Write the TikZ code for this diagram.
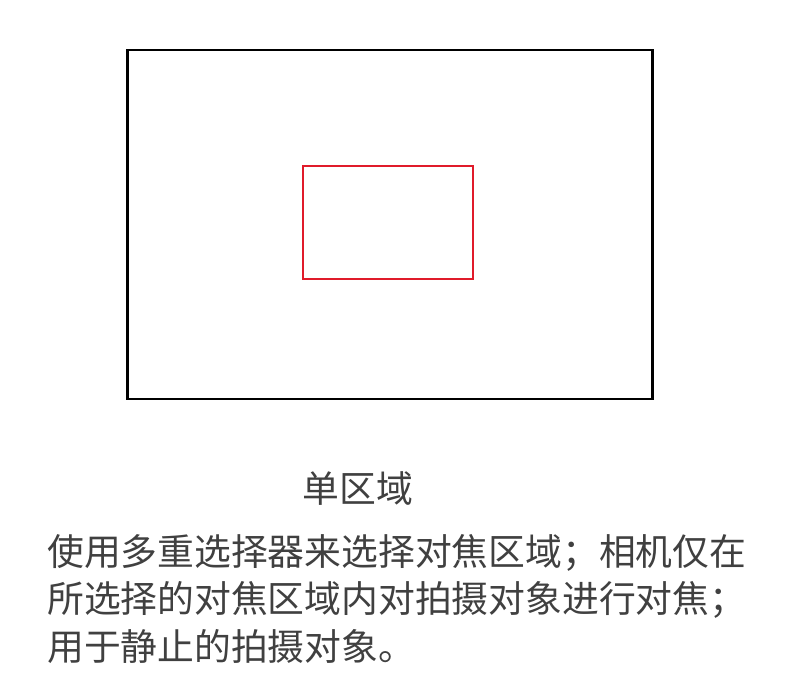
\documentclass[tikz,border=0pt]{standalone}
\usepackage{fontspec}
\newfontfamily\cjk{Noto Sans CJK SC}
\definecolor{focusred}{HTML}{E01B2A}
\definecolor{txtgray}{HTML}{404040}
\begin{document}
\begin{tikzpicture}[x=1pt,y=-1pt,
  frame/.style={draw=black,line width=2.5pt,minimum width=525pt,minimum height=349pt,inner sep=0pt},
  focus/.style={draw=focusred,line width=2.3pt,minimum width=170pt,minimum height=113pt,inner sep=0pt},
  txt/.style={font=\cjk\fontsize{36.8}{47}\selectfont,text=txtgray,inner sep=0pt}]
\useasboundingbox (0,0) rectangle (790,698);
\node[frame] (outer) at (390.1,224.7) {};
\node[focus] (af) at (387.7,222.6) {};
\node[txt] (title) at (358,489) {单区域};
\node[txt,anchor=west] (l1) at (47,553) {使用多重选择器来选择对焦区域；相机仅在};
\node[txt,anchor=west] (l2) at (47,600) {所选择的对焦区域内对拍摄对象进行对焦；};
\node[txt,anchor=west] (l3) at (47,647) {用于静止的拍摄对象。};
\end{tikzpicture}
\end{document}
